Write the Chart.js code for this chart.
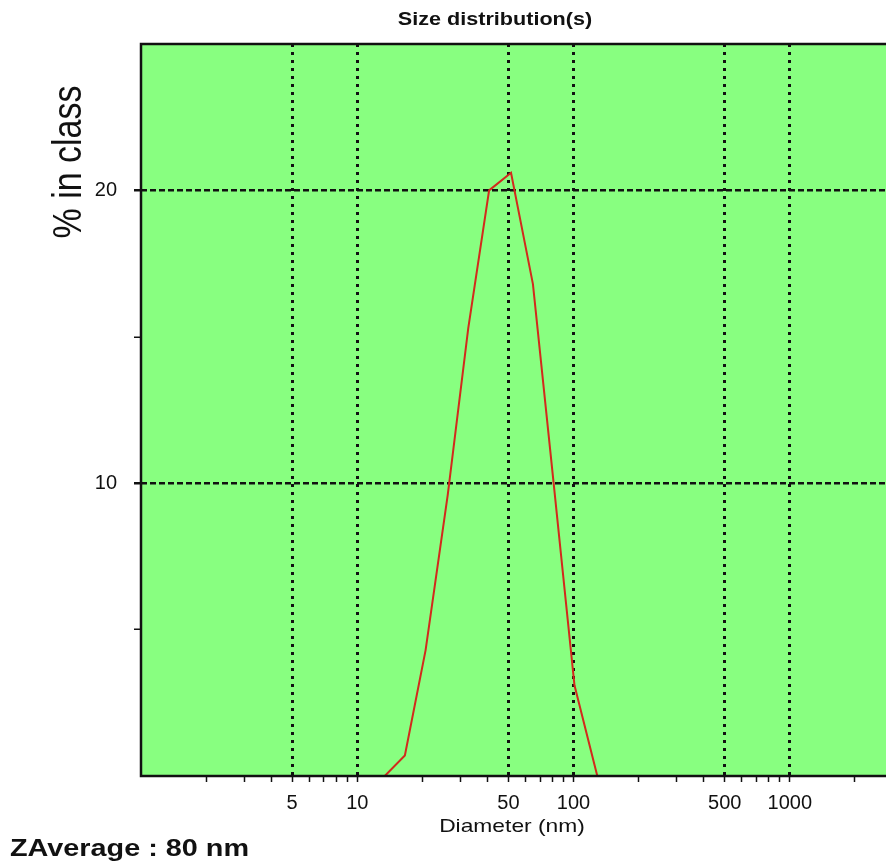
<!DOCTYPE html>
<html>
<head>
<meta charset="utf-8">
<script src="https://cdn.jsdelivr.net/npm/chart.js@4.4.1/dist/chart.umd.min.js"></script>
<style>
  html, body { margin: 0; padding: 0; background: #fff; overflow: hidden; }
  #wrap { position: relative; width: 900px; height: 865px; }
</style>
</head>
<body>
<div id="wrap"><canvas id="sizeChart"></canvas></div>
<script>
// values: diameter (nm) vs % in class
const diameters = [13.4, 16.6, 20.7, 26.2, 32.6, 40.7, 51.4, 64.9, 80.9, 101, 128.8];
const percentInClass = [0, 0.7, 4.3, 9.6, 15.3, 20.0, 20.6, 16.8, 10.0, 3.1, 0];

const xTicks = [2, 3, 4, 5, 6, 7, 8, 9, 10, 20, 30, 40, 50, 60, 70, 80, 90,
  100, 200, 300, 400, 500, 600, 700, 800, 900, 1000, 2000];
const xLabels = [5, 10, 50, 100, 500, 1000];
const yTicks = [5, 10, 15, 20];
const yLabels = [10, 20];

const FONT = "'Liberation Sans', Arial, sans-serif";
Chart.defaults.font.family = FONT;
Chart.defaults.color = '#111';

// green plot background + black frame
const plotFrame = {
  id: 'plotFrame',
  beforeDraw(chart) {
    const { ctx, chartArea: a } = chart;
    ctx.save();
    ctx.fillStyle = '#88ff80';
    ctx.fillRect(a.left, a.top, a.right - a.left, a.bottom - a.top);
    ctx.restore();
  },
  afterDatasetsDraw(chart) {
    const { ctx, chartArea: a } = chart;
    ctx.save();
    ctx.strokeStyle = '#111';
    ctx.lineWidth = 2.5;
    ctx.strokeRect(a.left, a.top, a.right - a.left, a.bottom - a.top);
    ctx.restore();
  }
};

// texts drawn a bit wide, like the reference
function wideText(ctx, txt, x, y, font, align, rot) {
  ctx.save();
  ctx.font = font;
  ctx.fillStyle = '#111';
  ctx.textAlign = align;
  ctx.textBaseline = 'middle';
  ctx.translate(x, y);
  ctx.scale(1.2, 1);
  if (rot) ctx.rotate(rot);
  ctx.fillText(txt, 0, 0);
  ctx.restore();
}

const labels = {
  id: 'labels',
  afterDraw(chart) {
    const ctx = chart.ctx;
    wideText(ctx, 'Size distribution(s)', 495, 20, 'bold 18px ' + FONT, 'center');
    wideText(ctx, '% in class', 70, 162, '34px ' + FONT, 'center', -Math.PI / 2);
    wideText(ctx, 'Diameter (nm)', 512, 827, '19px ' + FONT, 'center');
    wideText(ctx, 'ZAverage : 80 nm', 10, 849, 'bold 24px ' + FONT, 'left');
  }
};

new Chart(document.getElementById('sizeChart'), {
  type: 'line',
  data: {
    datasets: [{
      data: diameters.map((d, i) => ({ x: d, y: percentInClass[i] })),
      borderColor: '#d22a1c',
      borderWidth: 2,
      pointRadius: 0,
      tension: 0,
      fill: false
    }]
  },
  options: {
    responsive: true,
    maintainAspectRatio: false,
    animation: false,
    layout: { padding: { top: 44, right: 7, bottom: 0, left: 0 } },
    plugins: { legend: { display: false }, tooltip: { enabled: false } },
    scales: {
      x: {
        type: 'logarithmic',
        min: 1,
        max: 3000,
        afterBuildTicks: s => { s.ticks = xTicks.map(v => ({ value: v })); },
        afterFit: s => { s.height = 89; },
        ticks: {
          autoSkip: false,
          maxRotation: 0,
          minRotation: 0,
          padding: 9,
          font: { size: 20 },
          callback: v => xLabels.includes(v) ? String(v) : ''
        },
        grid: {
          color: c => xLabels.includes(c.tick && c.tick.value) ? '#111' : 'rgba(0,0,0,0)',
          lineWidth: 3,
          tickColor: '#111',
          tickLength: 6,
          tickWidth: 1.5
        },
        border: { display: false, dash: [3, 5] }
      },
      y: {
        min: 0,
        max: 25,
        afterBuildTicks: s => { s.ticks = yTicks.map(v => ({ value: v })); },
        afterFit: s => { s.width = 141; },
        ticks: {
          autoSkip: false,
          padding: 17,
          font: { size: 20 },
          callback: v => yLabels.includes(v) ? String(v) : ''
        },
        grid: {
          color: c => yLabels.includes(c.tick && c.tick.value) ? '#111' : 'rgba(0,0,0,0)',
          lineWidth: 2.5,
          tickColor: '#111',
          tickLength: 7,
          tickWidth: c => yLabels.includes(c.tick && c.tick.value) ? 2.5 : 1.5,
          tickBorderDash: c => yLabels.includes(c.tick && c.tick.value) ? [6, 3] : []
        },
        border: { display: false, dash: [6, 3] }
      }
    }
  },
  plugins: [plotFrame, labels]
});
</script>
</body>
</html>
